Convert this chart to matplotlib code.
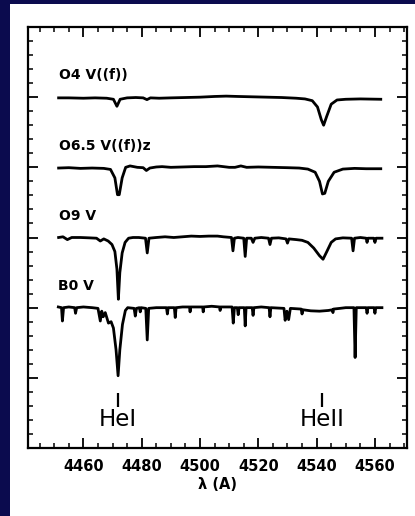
import matplotlib
matplotlib.use("Agg")
import matplotlib.pyplot as plt
from matplotlib.patches import Rectangle
from matplotlib.ticker import MultipleLocator

# ---------------- data ----------------
labels = ["O4 V((f))", "O6.5 V((f))z", "O9 V", "B0 V"]
levels = [5, 4, 3, 2]

o4_wl = [4451.5, 4455, 4460, 4464, 4468, 4470.3, 4471.5, 4472.6, 4475, 4478, 4480.5,
         4481.8, 4483, 4486, 4490, 4495, 4500, 4505, 4509, 4513, 4518, 4523, 4528,
         4533, 4536, 4538.5, 4540.3, 4541.6, 4542.4, 4543.4, 4545, 4547, 4550, 4555, 4562]
o4_fl = [0.99, 0.99, 0.985, 0.99, 0.985, 0.97, 0.87, 0.97, 0.99, 0.995, 0.99,
         0.965, 0.99, 0.985, 0.99, 0.995, 1.0, 1.01, 1.015, 1.01, 1.005, 1.0, 0.995,
         0.985, 0.975, 0.95, 0.86, 0.68, 0.60, 0.72, 0.9, 0.96, 0.97, 0.975, 0.97]

o65_wl = [4451.5, 4455, 4459, 4463, 4467, 4469.3, 4470.8, 4471.7, 4472.3, 4473.3, 4474.5,
          4476, 4478.5, 4480.5, 4481.6, 4482.8, 4485, 4487, 4490, 4494, 4498, 4502, 4506,
          4510, 4512, 4514, 4516, 4520, 4525, 4530, 4534, 4537, 4539.5, 4541, 4542,
          4542.8, 4544, 4546, 4549, 4553, 4557, 4562]
o65_fl = [0.99, 0.995, 0.985, 0.99, 0.985, 0.97, 0.85, 0.61, 0.61, 0.85, 1.0,
          1.02, 1.0, 0.995, 0.955, 0.99, 1.005, 1.01, 1.0, 1.005, 1.01, 1.01, 1.02,
          1.0, 1.0, 1.02, 1.0, 1.005, 1.0, 0.995, 0.99, 0.975, 0.93, 0.8, 0.62,
          0.63, 0.8, 0.93, 0.975, 0.985, 0.98, 0.98]

o9_wl = [4451.5, 4453, 4454.5, 4456, 4459, 4462, 4464.5, 4465.8, 4467, 4468.5, 4469.8,
         4470.8, 4471.5, 4472.0, 4472.5, 4473.3, 4474.3, 4475.5, 4477, 4479, 4481.3,
         4481.9, 4482.5, 4485, 4488, 4491, 4494, 4497, 4500, 4503, 4506, 4508,
         4510.8, 4511.3, 4511.8, 4513, 4515.0, 4515.5, 4516.0, 4517.6, 4518.2, 4518.8,
         4521, 4523.5, 4524, 4524.5, 4527, 4529.5, 4530, 4530.5, 4533, 4535, 4537, 4539,
         4541, 4542.2, 4543.5, 4545, 4546.5, 4549, 4552, 4552.5, 4553, 4555, 4557,
         4557.3, 4557.6, 4559.6, 4560, 4560.4, 4562.4]
o9_fl = [1.0, 1.01, 0.97, 1.0, 1.0, 0.995, 0.99, 0.95, 0.98, 0.95, 0.9,
         0.8, 0.55, 0.12, 0.5, 0.78, 0.93, 0.99, 1.0, 1.0, 0.99,
         0.78, 0.99, 1.0, 1.01, 1.0, 1.01, 1.02, 1.015, 1.02, 1.02, 1.01,
         1.0, 0.81, 0.99, 1.0, 0.99, 0.73, 0.99, 0.99, 0.93, 0.99,
         1.0, 0.99, 0.9, 0.99, 0.995, 0.98, 0.92, 0.98, 0.97, 0.96, 0.93, 0.85,
         0.74, 0.69, 0.8, 0.93, 0.98, 0.995, 0.99, 0.81, 0.99, 1.0, 0.99,
         0.93, 0.99, 0.99, 0.93, 0.99, 0.99]

b0_wl = [4451.4, 4452.5, 4452.8, 4453.2, 4455, 4457.0, 4457.3, 4457.7, 4460, 4463, 4465,
         4465.8, 4466.3, 4466.8, 4467.5, 4468.6, 4469.5, 4470.3, 4471.2, 4471.9, 4472.5,
         4473.4, 4474.4, 4475.2, 4477.4, 4477.8, 4478.2, 4479.2, 4479.5, 4479.8, 4481.4,
         4481.9, 4482.4, 4485, 4488.5, 4488.8, 4489.1, 4491.2, 4491.5, 4491.8, 4494,
         4496.4, 4496.6, 4496.8, 4500.9, 4501.1, 4501.3, 4504, 4506.7, 4506.9, 4507.1,
         4511.0, 4511.4, 4511.8, 4512.8, 4513.1, 4513.4, 4515.2, 4515.5, 4515.8, 4517.9,
         4518.2, 4518.5, 4521, 4523.7, 4524, 4524.3, 4528.8, 4529.2, 4529.8, 4530.4,
         4531, 4534.7, 4535, 4535.3, 4538, 4541, 4544, 4545.4, 4545.6, 4545.8, 4548,
         4550, 4552.8, 4553.2, 4553.6, 4557.0, 4557.3, 4557.6, 4559.7, 4560, 4560.3, 4562.4]
b0_fl = [1.01, 1.0, 0.81, 1.0, 1.01, 1.0, 0.92, 1.0, 1.01, 1.0, 0.99,
         0.81, 0.95, 0.87, 0.93, 0.78, 0.8, 0.71, 0.4, 0.03, 0.4,
         0.76, 0.96, 1.0, 0.99, 0.88, 0.99, 1.0, 0.94, 1.0, 0.99,
         0.54, 0.99, 1.0, 1.0, 0.91, 1.0, 1.0, 0.86, 1.0, 1.01,
         1.01, 0.94, 1.01, 1.01, 0.94, 1.01, 1.02, 1.01, 0.96, 1.01,
         1.01, 0.78, 1.0, 1.0, 0.9, 1.0, 1.0, 0.74, 1.0, 1.0,
         0.89, 1.0, 1.01, 1.0, 0.87, 1.0, 0.99, 0.82, 0.95, 0.83,
         0.99, 0.98, 0.91, 0.97, 0.955, 0.95, 0.96, 0.97, 0.93, 0.98, 0.99,
         1.0, 1.0, 0.29, 1.0, 1.0, 0.92, 1.0, 1.0, 0.92, 1.0, 1.0]

spectra_wl = [o4_wl, o65_wl, o9_wl, b0_wl]
spectra_fl = [o4_fl, o65_fl, o9_fl, b0_fl]

line_ids = ["HeI", "HeII"]
line_wl = [4471.8, 4542.0]

xticks = [4460, 4480, 4500, 4520, 4540, 4560]

# ---------------- figure ----------------
W, H = 415, 516
fig = plt.figure(figsize=(W / 100, H / 100), dpi=100, facecolor="#0b0b4e")
bg = fig.add_axes([10 / W, 0, 1 - 10 / W, 1 - 4 / H], zorder=-5)
bg.set_facecolor("white")
bg.set_axis_off()
bg.add_patch(Rectangle((0, 0), 1, 1, transform=bg.transAxes,
                       facecolor="white", edgecolor="none"))

ax = fig.add_axes([28 / W, 1 - 448 / H, (407 - 28) / W, (448 - 27) / H], zorder=1)
ax.set_facecolor("white")

for lab, lev, wl, fl in zip(labels, levels, spectra_wl, spectra_fl):
    y = [f + lev - 1 for f in fl]
    ax.plot(wl, y, color="black", lw=2.0, solid_joinstyle="round")
    ax.text(wl[0], lev + 0.31, lab, fontsize=10, fontweight="bold",
            ha="left", va="center", family="DejaVu Sans")

ax.vlines(line_wl, 0.585, 0.785, color="black", lw=1.6)
for name, wl in zip(line_ids, line_wl):
    ax.text(wl, 0.40, name, fontsize=16.5, ha="center", va="center",
            family="DejaVu Sans", fontweight="medium")

ax.set_xlim(4441, 4571)
ax.set_ylim(0, 6)
ax.set_xticks(xticks)
ax.set_xticklabels([str(t) for t in xticks], fontsize=10.5, fontweight="bold")
ax.xaxis.set_minor_locator(MultipleLocator(5))
ax.yaxis.set_major_locator(MultipleLocator(1))
ax.yaxis.set_minor_locator(MultipleLocator(0.2))
ax.set_yticklabels([])
ax.tick_params(which="both", direction="in", top=True, right=True, color="black")
ax.tick_params(which="major", length=7, width=1.3)
ax.tick_params(which="minor", length=3.5, width=1.1)
ax.tick_params(axis="x", pad=8)
for s in ax.spines.values():
    s.set_linewidth(1.6)

ax.set_xlabel("λ (A)", fontsize=10.5, fontweight="bold", labelpad=2)

fig.savefig("out.png", dpi=100, facecolor=fig.get_facecolor())
